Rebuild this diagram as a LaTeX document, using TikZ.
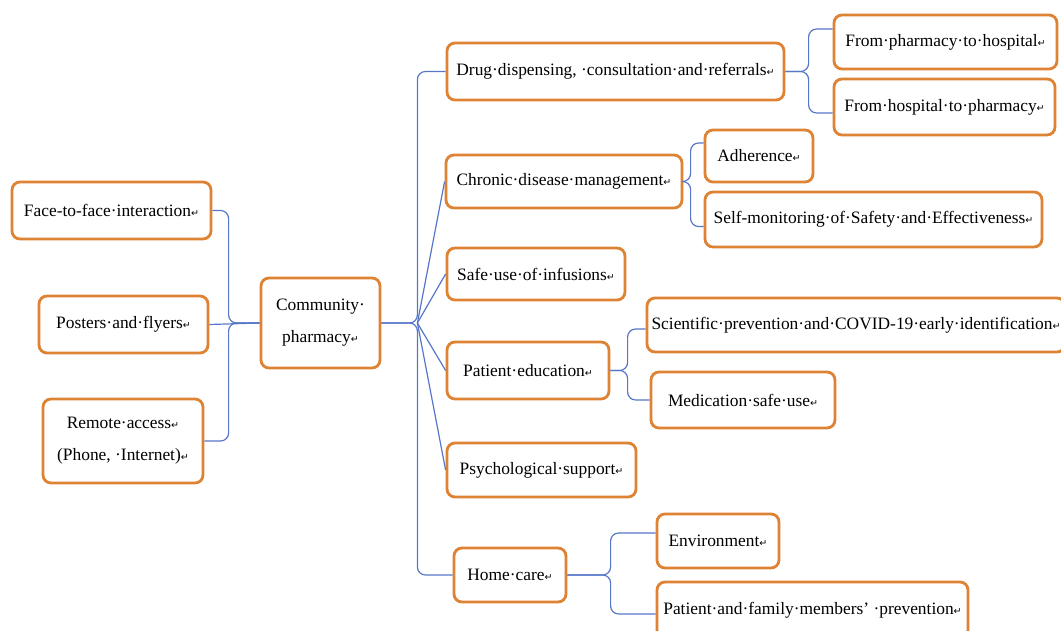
\documentclass[tikz,border=0pt]{standalone}
\usepackage{fontspec}
\setmainfont{Liberation Serif}
\newfontfamily\symfont{DejaVu Sans}
\newcommand\ret{{\symfont\fontsize{9.5}{9.5}\selectfont ↵}}
\definecolor{boxorange}{RGB}{222,130,52}
\definecolor{linkblue}{RGB}{86,118,200}
\begin{document}
\begin{tikzpicture}[x=1pt,y=-1pt,line join=round,
  box/.style={draw=boxorange,line width=2.8pt,rounded corners=8pt,fill=white,
    align=center,inner sep=0pt,font=\fontsize{17.4}{32}\selectfont},
  link/.style={draw=linkblue,line width=1.2pt,rounded corners=8pt}]
  \clip (0,0) rectangle (1061,631);
  % left side
  \node[box,minimum width=199pt,minimum height=57pt] (face) at (111.5,210.5) {Face-to-face·interaction\ret};
  \node[box,minimum width=169pt,minimum height=57pt] (post) at (123.5,324.5) {Posters·and·flyers\ret};
  \node[box,minimum width=160pt,minimum height=84pt] (remote) at (123,441) {Remote·access\ret\\(Phone, ·Internet)\ret};
  \node[box,minimum width=119pt,minimum height=90pt] (cp) at (320.5,323) {Community·\\pharmacy\ret};
  % right side, first level
  \node[box,minimum width=337pt,minimum height=57pt] (drug) at (615.5,71.5) {Drug·dispensing, ·consultation·and·referrals\ret};
  \node[box,minimum width=236pt,minimum height=53pt] (chron) at (564,181.5) {Chronic·disease·management\ret};
  \node[box,minimum width=178pt,minimum height=52pt] (inf) at (536,274) {Safe·use·of·infusions\ret};
  \node[box,minimum width=162pt,minimum height=57pt] (edu) at (528,370.5) {Patient·education\ret};
  \node[box,minimum width=189pt,minimum height=54pt] (psy) at (541.5,470) {Psychological·support\ret};
  \node[box,minimum width=112pt,minimum height=54pt] (home) at (510,575) {Home·care\ret};
  % right side, second level
  \node[box,minimum width=223pt,minimum height=54pt] (ph) at (945.5,42) {From·pharmacy·to·hospital\ret};
  \node[box,minimum width=221pt,minimum height=56pt] (hp) at (944.5,107) {From·hospital·to·pharmacy\ret};
  \node[box,minimum width=108pt,minimum height=52pt] (adh) at (759,156) {Adherence\ret};
  \node[box,minimum width=337pt,minimum height=55pt] (selfm) at (873.5,219.5) {Self-monitoring·of·Safety·and·Effectiveness\ret};
  \node[box,minimum width=418pt,minimum height=54pt] (sci) at (856,325) {Scientific·prevention·and·COVID-19·early·identification\ret};
  \node[box,minimum width=184pt,minimum height=56pt] (med) at (743,400) {Medication·safe·use\ret};
  \node[box,minimum width=122pt,minimum height=54pt] (env) at (718,541) {Environment\ret};
  \node[box,minimum width=311pt,minimum height=56pt] (fam) at (812.5,610) {Patient·and·family·members’ ·prevention\ret};
  % connectors into the centre
  \coordinate (lhub) at ([xshift=-31pt]cp.west);
  \draw[link] (face.east) -| (lhub) -- (cp.west);
  \draw[link] (remote.east) -| (lhub) -- (cp.west);
  \draw[link] (post.east) -- (cp.west);
  % trunk
  \coordinate (hub) at ([xshift=36pt]cp.east);
  \draw[link] (cp.east) -| (hub |- drug.west) -- (drug.west);
  \draw[link] (cp.east) -| (hub |- home.west) -- (home.west);
  \draw[link] (hub) -- (chron.west);
  \draw[link] (hub) -- (inf.west);
  \draw[link] (hub) -- (edu.west);
  \draw[link] (hub) -- (psy.west);
  % brackets
  \draw[link] (drug.east) -| ([xshift=-24pt,yshift=13pt]ph.west) -- ([yshift=13pt]ph.west);
  \draw[link] (drug.east) -| ([xshift=-24pt,yshift=-6pt]hp.west) -- ([yshift=-6pt]hp.west);
  \draw[link] (chron.east) -| ([xshift=-13pt,yshift=13pt]adh.west) -- ([yshift=13pt]adh.west);
  \draw[link] (chron.east) -| ([xshift=-13pt,yshift=-7pt]selfm.west) -- ([yshift=-7pt]selfm.west);
  \draw[link] (edu.east) -| ([xshift=-18pt,yshift=-4pt]sci.west) -- ([yshift=-4pt]sci.west);
  \draw[link] (edu.east) -| ([xshift=-22pt]med.west) -- (med.west);
  \draw[link] (home.east) -| ([xshift=-45pt,yshift=8pt]env.west) -- ([yshift=8pt]env.west);
  \draw[link] (home.east) -| ([xshift=-45pt,yshift=-4pt]fam.west) -- ([yshift=-4pt]fam.west);
\end{tikzpicture}
\end{document}
